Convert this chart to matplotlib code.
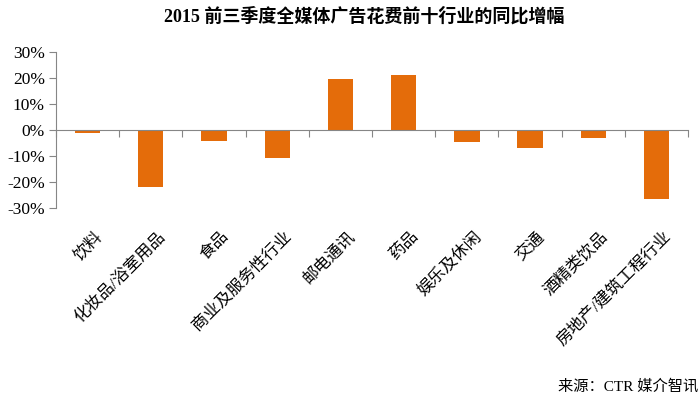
import matplotlib
matplotlib.use('Agg')
import matplotlib.pyplot as plt
import numpy as np
from matplotlib.ticker import FuncFormatter, FixedLocator

# 2015前三季度全媒体广告花费前十行业的同比增幅 (%)
industries = ['饮料', '化妆品/浴室用品', '食品', '商业及服务性行业', '邮电通讯',
              '药品', '娱乐及休闲', '交通', '酒精类饮品', '房地产/建筑工程行业']
growth = [-1.0, -21.7, -4.1, -10.6, 19.5, 21.1, -4.5, -6.8, -2.9, -26.4]
y_ticks = [-30, -20, -10, 0, 10, 20, 30]

plt.rcParams['font.family'] = ['Liberation Serif', 'Noto Sans CJK SC', 'DejaVu Sans']

fig = plt.figure(figsize=(7, 3.99), dpi=100)
ax = fig.add_axes([0.08, 0.478, 0.903, 0.3924])

x = np.arange(len(industries))
ax.bar(x, growth, width=0.4, color='#E46C0A', zorder=2)

ax.set_xlim(-0.5, len(industries) - 0.5)
ax.set_ylim(-30, 30)
ax.yaxis.set_major_locator(FixedLocator(y_ticks))
ax.yaxis.set_major_formatter(FuncFormatter(lambda v, p: '%d%%' % v))

axis_grey = '#868686'
for s in ['top', 'right']:
    ax.spines[s].set_visible(False)
ax.spines['left'].set_color(axis_grey)
ax.spines['bottom'].set_color(axis_grey)
ax.spines['bottom'].set_position(('data', 0))

ax.tick_params(axis='y', direction='out', length=5, color=axis_grey, labelsize=12.5, pad=3)
ax.set_xticks(np.arange(len(industries) + 1) - 0.5)
ax.set_xticklabels([])
ax.tick_params(axis='x', direction='out', length=5, color=axis_grey)

for i, name in enumerate(industries):
    ax.text(i + 0.1, -0.13, name, transform=ax.get_xaxis_transform(),
            rotation=45, rotation_mode='anchor', ha='right', va='top',
            fontsize=12)

fig.text(0.52, 0.96, '2015 前三季度全媒体广告花费前十行业的同比增幅',
         ha='center', va='center', fontsize=13, fontweight='bold')
fig.text(0.997, 0.032, '来源：CTR 媒介智讯', ha='right', va='center', fontsize=11)

fig.savefig('out.png', dpi=100)
